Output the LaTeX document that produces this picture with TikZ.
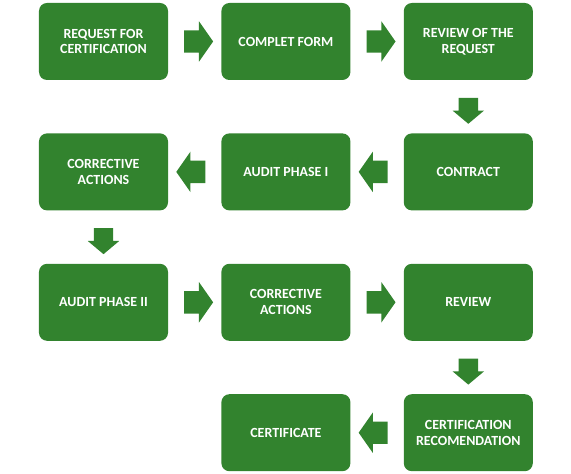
\documentclass[tikz,border=0pt]{standalone}
\usepackage{fontspec}
\setmainfont{Carlito}
\usepackage{tikz}
\usetikzlibrary{positioning}
\usetikzlibrary{shapes.arrows}
\usepackage{color}
\definecolor{leafgreen}{RGB}{50, 131, 46}

\begin{document}
\begin{tikzpicture}[x=1bp, y=1bp, node distance=53bp and 53bp,
    stage/.style={fill=leafgreen, rounded corners=8bp, minimum width=129bp, minimum height=77bp,
                  inner sep=2pt, align=center, text=white, font=\bfseries\fontsize{14}{16}\selectfont},
    harrow/.style={single arrow, fill=leafgreen, inner xsep=0pt, inner ysep=11bp, minimum height=29bp,
                   single arrow head extend=9bp, single arrow tip angle=110},
    varrow/.style={single arrow, fill=leafgreen, inner xsep=9.5bp, inner ysep=0pt, minimum height=26bp,
                   single arrow head extend=6bp, single arrow tip angle=100, shape border rotate=270}]
    % Frame to fix the page size:
    \useasboundingbox                                     (0, 0) rectangle (571, -474);
    % First row
    \node[stage] (request)  at (103.5, -41.5)   {REQUEST FOR\\CERTIFICATION};
    \node[stage, right=of request]  (form)      {COMPLET FORM};
    \node[stage, right=of form]     (reqreview) {REVIEW OF THE\\REQUEST};
    % Second row
    \node[stage, below=of reqreview] (contract) {CONTRACT};
    \node[stage, left=of contract]  (auditone)  {AUDIT PHASE I};
    \node[stage, left=of auditone]  (corrone)   {CORRECTIVE\\ACTIONS};
    % Third row
    \node[stage, below=of corrone]  (audittwo)  {AUDIT PHASE II};
    \node[stage, right=of audittwo] (corrtwo)   {CORRECTIVE\\ACTIONS};
    \node[stage, right=of corrtwo]  (review)    {REVIEW};
    % Fourth row
    \node[stage, below=of review]   (recom)     {CERTIFICATION\\RECOMENDATION};
    \node[stage, left=of recom]     (cert)      {CERTIFICATE};
    % Block arrows
    \path (request)   -- node[harrow] (a1) {} (form);
    \path (form)      -- node[harrow] (a2) {} (reqreview);
    \path (reqreview) -- node[varrow] (a3) {} (contract);
    \path (contract)  -- node[harrow, shape border rotate=180] (a4) {} (auditone);
    \path (auditone)  -- node[harrow, shape border rotate=180] (a5) {} (corrone);
    \path (corrone)   -- node[varrow] (a6) {} (audittwo);
    \path (audittwo)  -- node[harrow] (a7) {} (corrtwo);
    \path (corrtwo)   -- node[harrow] (a8) {} (review);
    \path (review)    -- node[varrow] (a9) {} (recom);
    \path (recom)     -- node[harrow, shape border rotate=180] (a10) {} (cert);
\end{tikzpicture}
\end{document}
